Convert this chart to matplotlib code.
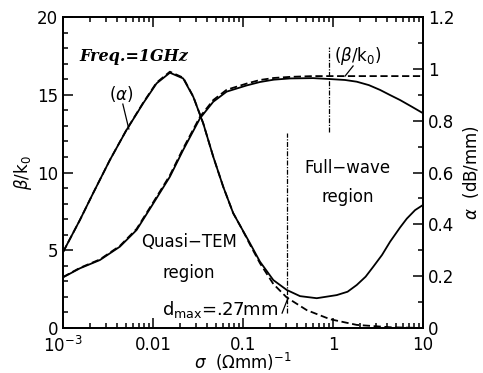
import matplotlib
matplotlib.use("Agg")
import matplotlib.pyplot as plt
from matplotlib.ticker import FixedLocator, LogLocator, NullFormatter, FuncFormatter

plt.rcParams['font.family'] = ['DejaVu Sans']
plt.rcParams['mathtext.fontset'] = 'dejavusans'

# alpha (dB/mm), full-wave solution
sigma_alpha = [0.00101, 0.00155, 0.00217, 0.00333, 0.0051, 0.0078, 0.011, 0.01545, 0.0217,
               0.0281, 0.0362, 0.0468, 0.0604, 0.078, 0.0927, 0.1052, 0.1197, 0.1545, 0.2173,
               0.306, 0.43, 0.659, 1.099, 1.45, 1.833, 2.3, 2.803, 3.5, 4.3, 5.55, 6.59, 8.15, 10]
alpha_full = [0.294, 0.417, 0.52, 0.648, 0.764, 0.867, 0.944, 0.985, 0.963,
              0.892, 0.79, 0.661, 0.545, 0.443, 0.396, 0.362, 0.327, 0.256, 0.185,
              0.147, 0.123, 0.115, 0.127, 0.14, 0.166, 0.198, 0.237, 0.282, 0.333, 0.388, 0.422, 0.455, 0.475]

# alpha, quasi-TEM solution
sigma_alpha_tem = [0.00101, 0.00155, 0.00217, 0.00333, 0.0051, 0.0078, 0.011, 0.01545, 0.0217,
                   0.0281, 0.0362, 0.0468, 0.0604, 0.078, 0.0927, 0.1052, 0.1197, 0.1545, 0.2173,
                   0.306, 0.511, 0.926, 1.833, 4.3, 10]
alpha_tem = [0.294, 0.417, 0.52, 0.648, 0.765, 0.869, 0.947, 0.989, 0.966,
             0.893, 0.79, 0.661, 0.545, 0.443, 0.396, 0.36, 0.322, 0.250, 0.170,
             0.118, 0.069, 0.034, 0.012, 0.003, 0.0]

# beta/k0, full-wave and quasi-TEM
sigma_beta = [0.001, 0.00155, 0.00258, 0.0043, 0.00659, 0.01008, 0.01545, 0.0217, 0.0333,
              0.0468, 0.0659, 0.11, 0.1545, 0.22, 0.333, 0.6, 0.926, 1.36, 1.833, 2.5, 3.33,
              4.3, 5.55, 7.5, 10]
beta_full = [3.25, 3.84, 4.37, 5.23, 6.3, 8.0, 9.73, 11.45, 13.48,
             14.55, 15.2, 15.6, 15.82, 15.97, 16.05, 16.07, 16.01, 15.95, 15.84, 15.62, 15.31,
             14.98, 14.66, 14.23, 13.81]
beta_tem = [3.27, 3.87, 4.41, 5.28, 6.37, 8.08, 9.82, 11.55, 13.58,
            14.66, 15.32, 15.72, 15.95, 16.08, 16.15, 16.2, 16.2, 16.2, 16.2, 16.2, 16.2,
            16.2, 16.2, 16.2, 16.2]

# region boundaries (sigma) and their extents in beta/k0 units
sigma_qtem = 0.306
qtem_span = [0.96, 12.54]
sigma_fw = 0.91
fw_span = [12.6, 18.07]

fig = plt.figure(figsize=(4.83, 3.73), dpi=100)
ax = fig.add_axes([0.130, 0.1206, 0.746, 0.8338])
ax2 = ax.twinx()

lw = 1.3
ax.plot(sigma_beta, beta_full, color='black', lw=lw)
ax.plot(sigma_beta, beta_tem, color='black', lw=lw, ls=(0, (4, 2)))
ax2.plot(sigma_alpha, alpha_full, color='black', lw=lw)
ax2.plot(sigma_alpha_tem, alpha_tem, color='black', lw=lw, ls=(0, (4, 2)))

dashdot = (0, (4, 1.2, 1, 1.2))
ax.plot([sigma_qtem, sigma_qtem], qtem_span, color='black', lw=0.9, ls=dashdot)
ax.plot([sigma_fw, sigma_fw], fw_span, color='black', lw=0.9, ls=dashdot)

ax.set_xscale('log')
ax.set_xlim(1e-3, 10)
ax.set_ylim(0, 20)
ax2.set_ylim(0, 1.2)

ax.xaxis.set_major_locator(FixedLocator([1e-3, 1e-2, 1e-1, 1, 10]))
ax.xaxis.set_minor_locator(LogLocator(base=10, subs=range(2, 10)))
ax.xaxis.set_minor_formatter(NullFormatter())
ax.set_xticklabels(['$10^{-3}$', '0.01', '0.1', '1', '10'])

ax.yaxis.set_major_locator(FixedLocator([0, 5, 10, 15, 20]))
ax.yaxis.set_minor_locator(FixedLocator(range(0, 21)))
ax2.yaxis.set_major_locator(FixedLocator([0, 0.2, 0.4, 0.6, 0.8, 1.0, 1.2]))
ax2.yaxis.set_minor_locator(FixedLocator([i / 10 for i in range(13)]))
ax2.yaxis.set_major_formatter(FuncFormatter(lambda v, p: '%g' % round(v, 1)))

ax.tick_params(which='both', direction='in', top=True, right=False, labelsize=12, width=1.1)
ax.tick_params(which='major', length=7)
ax.tick_params(which='minor', length=3.5)
ax2.tick_params(which='both', direction='in', labelsize=12, width=1.1)
ax2.tick_params(which='major', length=7)
ax2.tick_params(which='minor', length=3.5)
ax.tick_params(axis='x', pad=6)

for a in (ax, ax2):
    for s in a.spines.values():
        s.set_linewidth(1.3)

ax.set_xlabel(r'$\sigma$  ($\Omega$mm)$^{-1}$', fontsize=12, labelpad=-4)
ax.set_ylabel(r'$\beta$/k$_0$', fontsize=12, labelpad=2)
ax2.set_ylabel(r'$\alpha$  (dB/mm)', fontsize=12, labelpad=5)

ax.text(0.045, 0.86, 'Freq.=1GHz', transform=ax.transAxes, fontsize=11.5,
        family='DejaVu Serif', style='italic', weight='bold')
ax.text(0.0033, 14.66, r'($\alpha$)', fontsize=12)
ax.plot([0.00464, 0.00541], [14.4, 12.8], color='black', lw=0.9)
ax.text(1.026, 17.2, r'($\beta$/k$_0$)', fontsize=12)
ax.plot([1.36, 1.67], [16.2, 16.85], color='black', lw=0.9)

ax.text(1.45, 10.3, 'Full\u2212wave', fontsize=12, ha='center', va='center')
ax.text(1.45, 8.4, 'region', fontsize=12, ha='center', va='center')
ax.text(0.025, 5.53, 'Quasi\u2212TEM', fontsize=12, ha='center', va='center')
ax.text(0.025, 3.54, 'region', fontsize=12, ha='center', va='center')
ax.text(0.0126, 0.84, r'd$_{\mathrm{max}}$=.27mm', fontsize=13)
ax.plot([0.272, 0.316], [0.96, 1.93], color='black', lw=0.9)

fig.savefig('out.png', dpi=100)
